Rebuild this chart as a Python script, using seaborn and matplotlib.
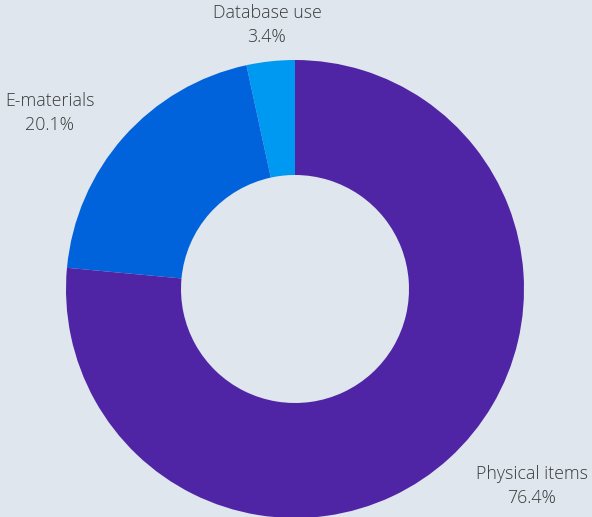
import matplotlib
matplotlib.use("Agg")
import matplotlib.pyplot as plt
import seaborn as sns

categories = ["Database use", "E-materials", "Physical items"]
shares = [3.4, 20.1, 76.4]
colors = ["#0099f2", "#0063db", "#5025a5"]
label_pos = [(267, 25), (50, 113), (532, 486)]

sns.set_theme(style="white")
plt.rcParams["font.family"] = ["Open Sans", "DejaVu Sans"]
bg = "#dfe6ed"

fig = plt.figure(figsize=(5.92, 5.17), dpi=100, facecolor=bg)
ax = fig.add_axes([0, 0, 1, 1])
ax.set_facecolor(bg)

# pie drawn in pixel units so it lines up with the reference
ax.pie(shares, colors=colors, startangle=90, counterclock=True,
       center=(295, 517 - 289), radius=229,
       wedgeprops=dict(width=115, linewidth=0))

for name, val, (px_, py_) in zip(categories, shares, label_pos):
    ax.text(px_, 517 - py_, f"{name}\n{val}%", ha="center", va="center",
            fontsize=12.8, color="#3a3a3a", linespacing=1.4,
            fontweight="light")

ax.set_xlim(0, 592)
ax.set_ylim(0, 517)
ax.set_aspect("equal")
ax.axis("off")
fig.savefig("out.png", dpi=100, facecolor=bg)
